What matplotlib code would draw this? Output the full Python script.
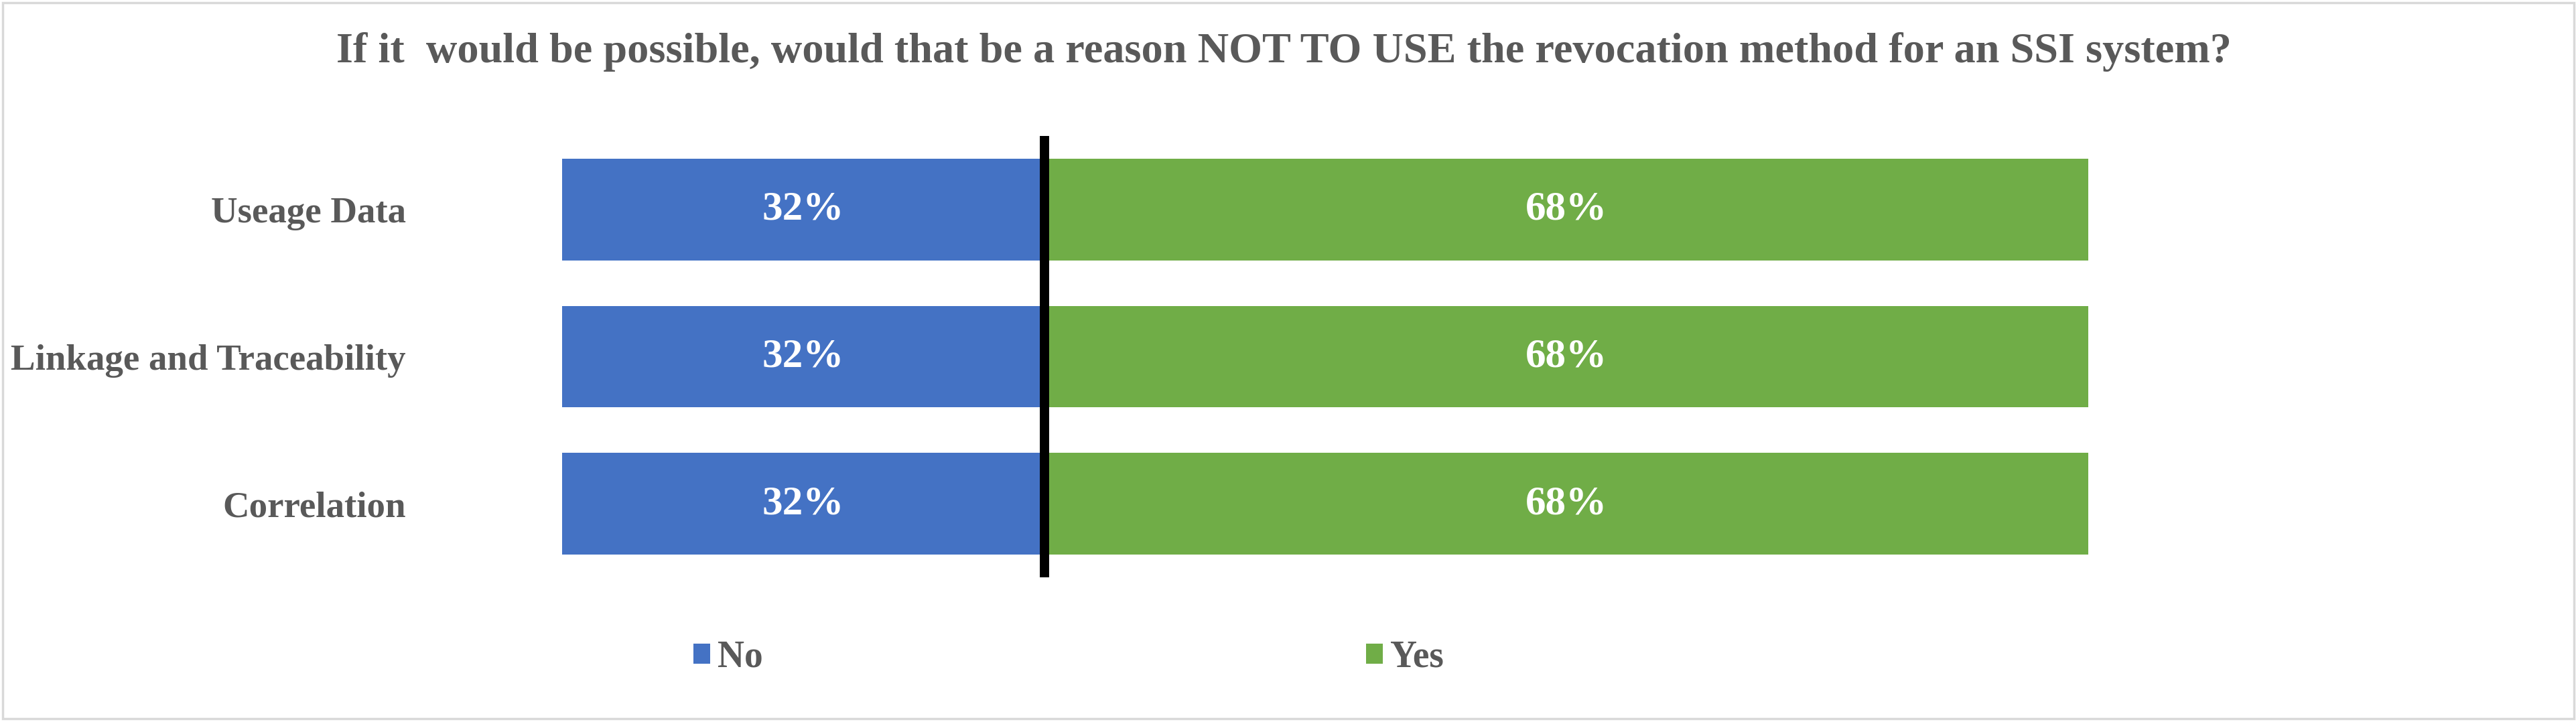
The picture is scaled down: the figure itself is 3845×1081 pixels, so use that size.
import matplotlib.pyplot as plt
from matplotlib.patches import Rectangle

# data
categories = ['Useage Data', 'Linkage and Traceability', 'Correlation']
no_vals = [31.6, 31.6, 31.6]
yes_vals = [68.4, 68.4, 68.4]
series_names = ['No', 'Yes']
title = 'If it  would be possible, would that be a reason NOT TO USE the revocation method for an SSI system?'

blue = '#4472C4'
green = '#70AD47'
gray = '#595959'

plt.rcParams['font.family'] = ['Liberation Serif', 'DejaVu Serif']
plt.rcParams['font.weight'] = 'bold'

W, H = 3845, 1081
fig = plt.figure(figsize=(W / 100, H / 100), dpi=100)
ax = fig.add_axes([839 / W, 1 - 862 / H, (3117 - 839) / W, (862 - 203) / H])

y = list(range(len(categories)))
neg = [-v for v in no_vals]
b1 = ax.barh(y, neg, height=0.69, color=blue, label=series_names[0])
b2 = ax.barh(y, yes_vals, height=0.69, color=green, label=series_names[1])

for i in y:
    ax.text(neg[i] / 2, i, f'{no_vals[i]:.0f}%', color='white', fontsize=44,
            fontweight='bold', ha='center', va='center')
    ax.text(yes_vals[i] / 2, i, f'{yes_vals[i]:.0f}%', color='white', fontsize=44,
            fontweight='bold', ha='center', va='center')

ax.axvline(0, color='black', linewidth=10)
ax.set_xlim(-max(no_vals), max(yes_vals))
ax.set_ylim(len(categories) - 0.5, -0.5)
ax.set_yticks(y)
ax.set_yticklabels(categories, fontsize=39.5, fontweight='bold', color=gray)
ax.tick_params(axis='y', length=0, pad=168)
ax.set_xticks([])
for s in ax.spines.values():
    s.set_visible(False)

fig.text(0.4984, 1 - 93 / H, title, fontsize=46.3, fontweight='bold', color=gray,
         ha='center', va='baseline')

fig.legend(handles=[b1, b2], labels=series_names, loc='center left',
           bbox_to_anchor=(1035 / W, 1 - 982 / H), ncol=2, frameon=False,
           fontsize=40, labelcolor=gray, handlelength=0.45, handleheight=0.45,
           handletextpad=0.2, columnspacing=16.2, borderpad=0, borderaxespad=0)

fig.patches.append(Rectangle((4 / W, 8 / H), 3838 / W, 1069 / H, transform=fig.transFigure,
                             fill=False, edgecolor='#d9d9d9', linewidth=2.5))

plt.savefig('out.png', dpi=100)
